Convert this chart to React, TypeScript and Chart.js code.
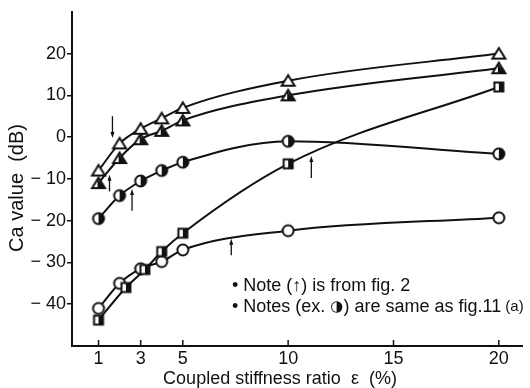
import { useEffect, useRef } from "react";
import { Chart, registerables } from "chart.js";

Chart.register(...registerables);

// Coupled stiffness ratio ε (%) at which each curve was measured
const ratioX = [1, 2, 3, 4, 5, 10, 20];
const squareX = [1, 2.3, 3.2, 4, 5, 10, 20];

// Ca value (dB) for each case
const openTriangle = [-8, -1.5, 2, 4.5, 7, 13.5, 20];
const halfTriangle = [-11, -5, -0.5, 1.5, 4, 10, 16.5];
const halfCircle = [-19.5, -14, -10.5, -8, -6, -1, -4];
const halfSquare = [-43.8, -36, -31.7, -27.4, -23, -6.4, 12];
const openCircle = [-41, -35, -31.5, -29.8, -27, -22.4, -19.3];

// Axis ticks
const xTicks = [1, 3, 5, 10, 15, 20];
const yTicks = [-40, -30, -20, -10, 0, 10, 20];

// Arrows taken from fig. 2: position, tip value and tail value
const arrowX = [1.66, 1.52, 2.59, 7.3, 11.1];
const arrowTip = [-0.2, -9, -12.4, -24.3, -4.5];
const arrowTail = [5, -13, -17.6, -28.3, -9.8];

const INK = "#111";
const NARROW = "'Liberation Sans Narrow', 'Arial Narrow', 'Liberation Sans', sans-serif";
const SANS = "'Liberation Sans', Arial, sans-serif";

type Kind = "openTri" | "halfTri" | "halfCircle" | "halfSquare" | "openCircle";

function makeMarker(kind: Kind): HTMLCanvasElement {
  const c = document.createElement("canvas");
  c.width = 18;
  c.height = 18;
  const g = c.getContext("2d")!;
  const cx = 9;
  const cy = 9;
  g.lineWidth = 2;
  g.strokeStyle = INK;
  g.fillStyle = "#fff";
  if (kind === "openTri" || kind === "halfTri") {
    const w = 6.5;
    const top = cy - 5.5;
    const bot = cy + 5;
    g.beginPath();
    g.moveTo(cx, top);
    g.lineTo(cx + w, bot);
    g.lineTo(cx - w, bot);
    g.closePath();
    g.fill();
    if (kind === "halfTri") {
      g.fillStyle = INK;
      g.beginPath();
      g.moveTo(cx - 1, top + 1);
      g.lineTo(cx + w, bot);
      g.lineTo(cx - 1, bot);
      g.closePath();
      g.fill();
    }
    g.beginPath();
    g.moveTo(cx, top);
    g.lineTo(cx + w, bot);
    g.lineTo(cx - w, bot);
    g.closePath();
    g.stroke();
  } else if (kind === "openCircle" || kind === "halfCircle") {
    const r = 5.5;
    g.beginPath();
    g.arc(cx, cy, r, 0, Math.PI * 2);
    g.fill();
    if (kind === "halfCircle") {
      g.fillStyle = INK;
      g.beginPath();
      g.arc(cx, cy, r, -Math.PI / 2, Math.PI / 2);
      g.closePath();
      g.fill();
    }
    g.beginPath();
    g.arc(cx, cy, r, 0, Math.PI * 2);
    g.stroke();
  } else {
    const h = 4.5;
    g.fillRect(cx - h, cy - h, h * 2, h * 2);
    g.fillStyle = INK;
    g.fillRect(cx, cy - h, h, h * 2);
    g.strokeRect(cx - h, cy - h, h * 2, h * 2);
  }
  return c;
}

const extras = {
  id: "figureExtras",
  afterDraw(chart: any) {
    const { ctx, chartArea, scales } = chart;
    const xs = scales.x;
    const ys = scales.y;
    ctx.save();
    ctx.strokeStyle = INK;
    ctx.fillStyle = INK;

    // inward tick marks on the ε axis
    ctx.lineWidth = 1.5;
    for (const v of xTicks) {
      const px = xs.getPixelForValue(v);
      ctx.beginPath();
      ctx.moveTo(px, chartArea.bottom);
      ctx.lineTo(px, chartArea.bottom - 6);
      ctx.stroke();
    }

    // arrows from fig. 2
    for (let i = 0; i < arrowX.length; i++) {
      const px = xs.getPixelForValue(arrowX[i]);
      const tip = ys.getPixelForValue(arrowTip[i]);
      const tail = ys.getPixelForValue(arrowTail[i]);
      const dir = tail > tip ? 1 : -1;
      ctx.lineWidth = 1.3;
      ctx.beginPath();
      ctx.moveTo(px, tail);
      ctx.lineTo(px, tip + dir * 3);
      ctx.stroke();
      ctx.beginPath();
      ctx.moveTo(px, tip);
      ctx.lineTo(px - 2, tip + dir * 6);
      ctx.lineTo(px + 2, tip + dir * 6);
      ctx.closePath();
      ctx.fill();
    }

    // axis titles
    ctx.textBaseline = "middle";
    ctx.textAlign = "center";
    ctx.font = `20px ${SANS}`;
    ctx.save();
    ctx.translate(17, 188);
    ctx.rotate(-Math.PI / 2);
    ctx.fillText("Ca value  (dB)", 0, 0);
    ctx.restore();
    ctx.font = `18px ${SANS}`;
    ctx.fillText("Coupled stiffness ratio  ε  (%)", 280, 379);

    // notes
    ctx.textAlign = "left";
    const main = `18px ${SANS}`;
    ctx.font = main;
    ctx.fillText("• Note (↑) is from fig. 2", 232, 286);
    let x = 232;
    const parts: [string, string][] = [
      ["• Notes (ex. ", main],
      ["◑", `15px 'DejaVu Sans', sans-serif`],
      [") are same as fig.11", main],
      [" (a)", `15px ${SANS}`],
    ];
    for (const [t, f] of parts) {
      ctx.font = f;
      ctx.fillText(t, x, 307);
      x += ctx.measureText(t).width;
    }
    ctx.restore();
  },
};

export default function App() {
  const ref = useRef<HTMLCanvasElement | null>(null);

  useEffect(() => {
    document.body.style.margin = "0";
    const canvas = ref.current!;
    const series = (label: string, xv: number[], yv: number[], kind: Kind) => ({
      label,
      data: xv.map((x, i) => ({ x, y: yv[i] })),
      borderColor: INK,
      borderWidth: 2,
      cubicInterpolationMode: "monotone" as const,
      pointStyle: makeMarker(kind),
      pointRadius: 6,
      pointHoverRadius: 6,
      fill: false,
    });

    const chart = new Chart(canvas, {
      type: "line",
      data: {
        datasets: [
          series("open triangle", ratioX, openTriangle, "openTri"),
          series("half triangle", ratioX, halfTriangle, "halfTri"),
          series("half circle", ratioX, halfCircle, "halfCircle"),
          series("half square", squareX, halfSquare, "halfSquare"),
          series("open circle", ratioX, openCircle, "openCircle"),
        ],
      },
      plugins: [extras],
      options: {
        animation: false,
        responsive: false,
        events: [],
        layout: { padding: { top: 10, right: 0, left: 0, bottom: 0 } },
        plugins: { legend: { display: false }, tooltip: { enabled: false } },
        scales: {
          x: {
            type: "linear",
            min: -0.26,
            max: 21.1,
            afterBuildTicks: (s: any) => {
              s.ticks = xTicks.map((v) => ({ value: v }));
            },
            afterFit: (s: any) => {
              s.height = 42;
            },
            grid: { display: false, drawTicks: false },
            border: { display: true, color: INK, width: 2 },
            ticks: {
              color: INK,
              padding: 2,
              maxRotation: 0,
              autoSkip: false,
              font: { family: NARROW, size: 18 },
              callback: (v: any) => String(v),
            },
          },
          y: {
            type: "linear",
            min: -50,
            max: 30,
            afterBuildTicks: (s: any) => {
              s.ticks = yTicks.map((v) => ({ value: v }));
            },
            afterFit: (s: any) => {
              s.width = 72;
            },
            grid: {
              display: true,
              drawOnChartArea: false,
              drawTicks: true,
              tickLength: 5,
              color: INK,
              lineWidth: 1.5,
            },
            border: { display: true, color: INK, width: 2 },
            ticks: {
              color: INK,
              padding: 1,
              autoSkip: false,
              font: { family: NARROW, size: 18 },
              callback: (v: any) => (v < 0 ? "− " + Math.abs(v) : String(v)),
            },
          },
        },
      },
    });
    return () => chart.destroy();
  }, []);

  return <canvas ref={ref} width={530} height={388} style={{ display: "block" }} />;
}
